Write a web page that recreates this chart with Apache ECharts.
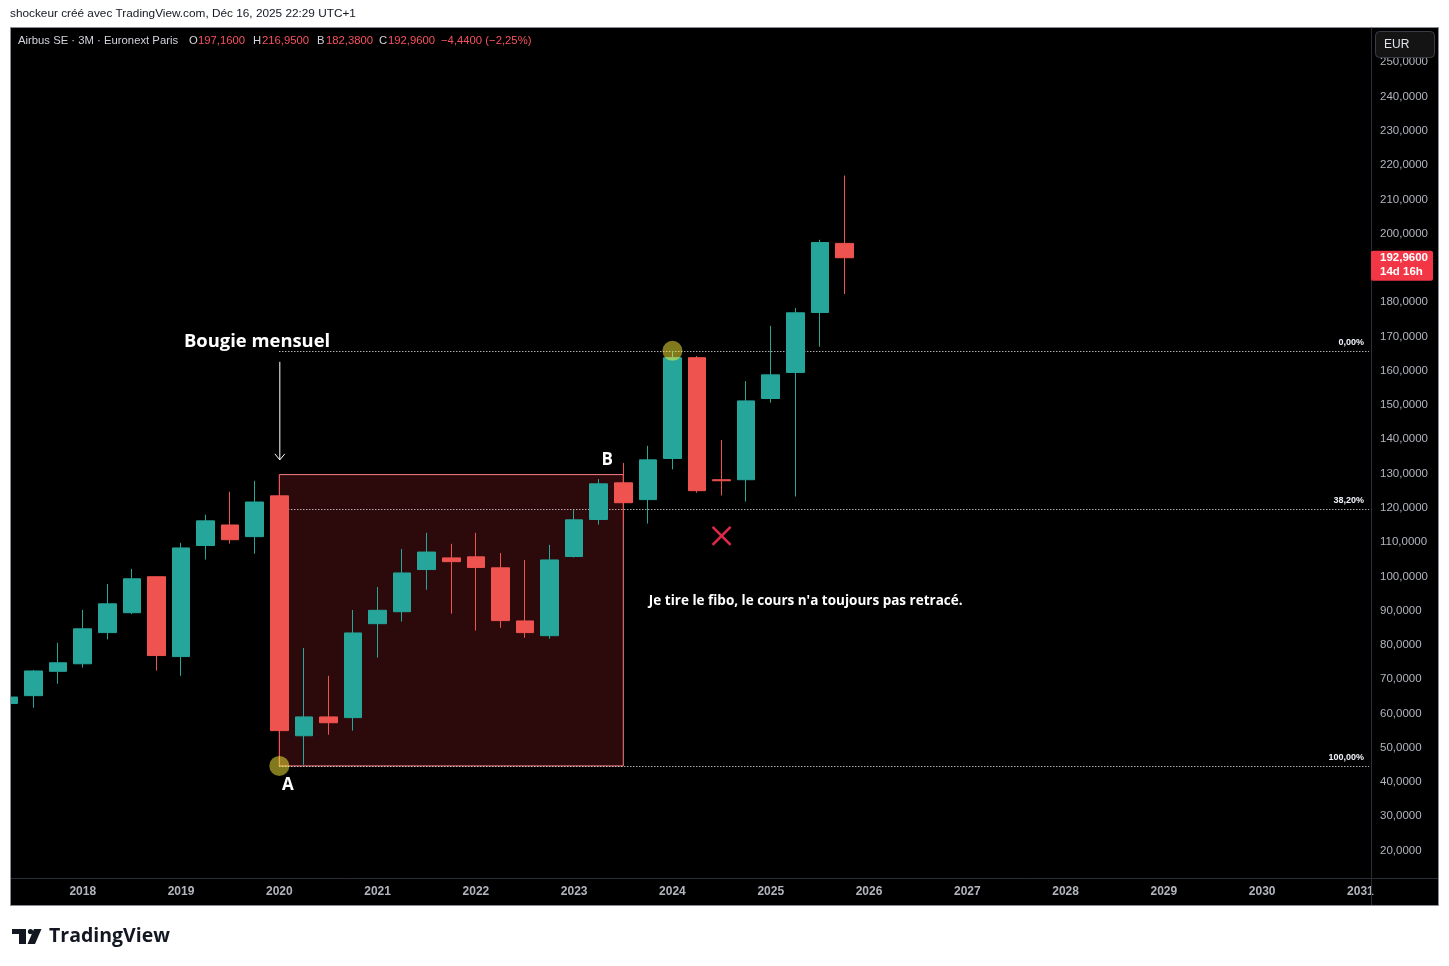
<!DOCTYPE html>
<html><head><meta charset="utf-8">
<script src="https://cdn.jsdelivr.net/npm/echarts@6/dist/echarts.min.js"></script>
<style>html,body{margin:0;padding:0;background:#fff;}#main{width:1449px;height:966px;}</style>
</head><body><div id="main"></div>
<script>
// ---- Data (quarterly candles, Airbus SE, Euronext Paris) ----
const quarters = ['2017 T2','2017 T3','2017 T4','2018 T1','2018 T2','2018 T3','2018 T4','2019 T1','2019 T2','2019 T3','2019 T4',
  '2020 T1','2020 T2','2020 T3','2020 T4','2021 T1','2021 T2','2021 T3','2021 T4','2022 T1','2022 T2','2022 T3','2022 T4',
  '2023 T1','2023 T2','2023 T3','2023 T4','2024 T1','2024 T2','2024 T3','2024 T4','2025 T1','2025 T2','2025 T3','2025 T4'];
const opens  = [62.9,65.2,72.3,74.5,83.6,89.4,99.9,76.6,109.0,115.0,111.6,123.5,53.5,59.0,58.8,86.2,89.7,102.0,105.4,105.7,102.5,87.0,82.7,105.8,116.6,127.3,122.4,134.4,163.8,128.2,128.2,151.9,159.5,177.0,197.16];
const highs  = [65.6,72.7,80.6,90.2,97.8,102.2,100.0,109.8,118.0,124.7,127.9,129.7,79.1,71.0,90.2,96.9,108.0,112.7,109.5,112.7,106.8,104.8,109.2,119.4,128.4,133.1,138.1,165.8,164.3,139.8,157.0,173.1,178.3,198.2,216.95];
const lows   = [62.3,61.7,68.7,73.4,81.6,89.0,72.5,71.0,104.9,109.6,106.6,44.7,45.0,53.8,55.0,76.3,86.8,96.1,89.1,84.2,85.0,82.1,81.8,105.5,115.1,116.0,115.4,131.2,124.4,123.6,121.8,150.7,123.3,167.0,182.38];
const closes = [64.8,72.4,74.8,84.7,92.0,99.3,76.9,108.3,116.2,110.7,121.7,55.0,59.0,57.3,83.5,90.1,101.0,107.1,104.3,102.6,87.1,83.6,104.8,116.5,127.0,121.5,134.0,163.8,125.0,127.9,151.2,158.8,176.9,197.4,192.96];

const yearLabels = ['2018','2019','2020','2021','2022','2023','2024','2025','2026','2027','2028','2029','2030','2031'];
const priceTicks = [20,30,40,50,60,70,80,90,100,110,120,130,140,150,160,170,180,190,200,210,220,230,240,250];
const fibLevels = [0, 0.382, 1];
const fibLabels = ['0,00%', '38,20%', '100,00%'];

const idxA = quarters.indexOf('2020 T1');     // point A (fibo 100%)
const idxTop = quarters.indexOf('2024 T1');   // fibo 0%
const idxB = quarters.indexOf('2023 T3');     // box right edge (B)
const fibLow = lows[idxA];
const fibHigh = highs[idxTop];
const boxTop = highs[idxA];

// annotation anchors (data coordinates)
const noteBougie = [7.12, 168.4];
const arrowFrom = [idxA, 162.6], arrowTo = [idxA, 134.0];
const labelA = [11.35, 39.2];
const labelB = [24.34, 134.0];
const noteFibo = [26.04, 92.8];
const crossAt = [29, 111.8];

const firstYear = 2017, firstQ = 2;
const yearIndex = y => (y - firstYear) * 4 + (1 - firstQ);
const yearTickValues = yearLabels.map(y => yearIndex(+y));

const fmt4 = v => v.toFixed(4).replace('.', ',');
const UP = '#26a69a', DOWN = '#ef5350', TXT = '#d1d4dc', RED = '#f7525f';
const FONT = '"Liberation Sans", Arial, sans-serif';
const AFONT = '"Open Sans", "DejaVu Sans", sans-serif';

const chart = echarts.init(document.getElementById('main'));
const candleData = quarters.map((q, i) => [i, opens[i], closes[i], lows[i], highs[i]]);
const xMin = 0.08, xMax = 55.43;

const option = {
  backgroundColor: '#ffffff',
  animation: false,
  grid: { left: 11, right: 78, top: 28, bottom: 88, containLabel: false },
  xAxis: {
    type: 'value', min: xMin, max: xMax,
    axisLine: { show: true, lineStyle: { color: '#2a2e39', width: 1 } },
    axisTick: { show: false }, splitLine: { show: false },
    axisLabel: {
      customValues: yearTickValues, color: '#b2b5be', fontFamily: FONT, fontSize: 12, fontWeight: 'bold', margin: 8,
      formatter: v => String(firstYear + Math.floor((Math.round(v) + firstQ - 1) / 4))
    }
  },
  yAxis: {
    type: 'value', position: 'right', min: 12, max: 260,
    axisLine: { show: true, lineStyle: { color: '#2a2e39', width: 1 } },
    axisTick: { show: false }, splitLine: { show: false },
    axisLabel: { customValues: priceTicks, color: '#b2b5be', fontFamily: FONT, fontSize: 11.5, margin: 9, formatter: v => fmt4(v) }
  },
  series: [
    {
      type: 'line', data: [], z: 1, silent: true,
      markArea: {
        silent: true, z: 1,
        itemStyle: { color: 'rgba(242,54,69,0.18)', borderColor: '#f77c80', borderWidth: 1 },
        data: [[{ coord: [idxA, boxTop] }, { coord: [idxB, fibLow] }]]
      },
      markLine: {
        silent: true, z: 1, symbol: ['none', 'none'],
        lineStyle: { color: '#ffffff', width: 1, type: [1, 2] },
        label: { show: true, position: 'insideEndTop', color: '#f0f3fa', fontFamily: FONT, fontSize: 9, fontWeight: 'bold', distance: 4, padding: [0, 1, 0, 0] },
        data: fibLevels.map((l, i) => {
          const v = fibHigh - l * (fibHigh - fibLow);
          return [{ coord: [idxA, v], label: { formatter: fibLabels[i] } }, { coord: [xMax - 0.08, v] }];
        })
      }
    },
    {
      type: 'candlestick', z: 2, clip: true,
      data: candleData,
      encode: { x: 0, y: [1, 2, 3, 4] },
      barWidth: 18,
      itemStyle: { color: UP, color0: DOWN, borderColor: UP, borderColor0: DOWN, borderWidth: 1 }
    },
    {
      type: 'line', data: [], z: 5, silent: true,
      markPoint: {
        silent: true, z: 5, symbol: 'circle', symbolSize: 20,
        itemStyle: { color: 'rgba(255,241,59,0.5)' }, label: { show: false },
        data: [{ coord: [idxA, fibLow] }, { coord: [idxTop, fibHigh] }]
      }
    }
  ]
};
chart.setOption(option);

const px = p => chart.convertToPixel({ gridIndex: 0 }, p);
const last = quarters.length - 1;
const chg = closes[last] - closes[last - 1];
const pct = chg / closes[last - 1] * 100;
const neg = s => s.replace('-', '\u2212');
const pY = px([0, closes[last]])[1];
const pB = px(noteBougie), a1 = px(arrowFrom), a2 = px(arrowTo), pA = px(labelA), pBB = px(labelB), pN = px(noteFibo), pX = px(crossAt);

const g = [];
// frame + black pane
g.push({ type: 'rect', z: -10, shape: { x: 10.5, y: 27.5, width: 1428, height: 878 }, style: { fill: '#000', stroke: '#8a8d96', lineWidth: 1 } });
// mask anything drawn left of the pane, then redraw the left border
g.push({ type: 'rect', z: 50, shape: { x: 0, y: 27, width: 10, height: 880 }, style: { fill: '#fff' } });
g.push({ type: 'line', z: 51, shape: { x1: 10.5, y1: 27.5, x2: 10.5, y2: 905.5 }, style: { stroke: '#8a8d96', lineWidth: 1 } });
g.push({ type: 'line', z: 10, shape: { x1: 1371.5, y1: 878, x2: 1371.5, y2: 905 }, style: { stroke: '#2a2e39', lineWidth: 1 } });
g.push({ type: 'line', z: 10, shape: { x1: 1371, y1: 878.5, x2: 1438, y2: 878.5 }, style: { stroke: '#2a2e39', lineWidth: 1 } });
// header
g.push({ type: 'text', z: 10, x: 10, y: 14, style: { text: 'shockeur créé avec TradingView.com, Déc 16, 2025 22:29 UTC+1', fill: '#131722', font: '11.8px ' + FONT, verticalAlign: 'middle' } });
// legend
const leg = [
  [18, 'Airbus SE · 3M · Euronext Paris', TXT], [189, 'O', TXT], [198, fmt4(opens[last]), RED],
  [253, 'H', TXT], [262, fmt4(highs[last]), RED], [317, 'B', TXT], [326, fmt4(lows[last]), RED],
  [379, 'C', TXT], [388, fmt4(closes[last]), RED], [441, neg(fmt4(chg)) + ' (' + neg(pct.toFixed(2).replace('.', ',')) + '%)', RED]
];
leg.forEach(([x, t, c]) => g.push({ type: 'text', z: 10, x: x, y: 41, style: { text: t, fill: c, font: '11.3px ' + FONT, verticalAlign: 'middle' } }));
// EUR box
g.push({ type: 'rect', z: 20, shape: { x: 1375.5, y: 31.5, width: 59, height: 26, r: 4 }, style: { fill: '#141414', stroke: '#3a3d45', lineWidth: 1 } });
g.push({ type: 'text', z: 21, x: 1384, y: 45, style: { text: 'EUR', fill: '#e0e3eb', font: '12px ' + FONT, verticalAlign: 'middle' } });
// price tag
g.push({ type: 'rect', z: 20, shape: { x: 1371, y: pY - 7, width: 62, height: 30, r: 2 }, style: { fill: '#f23645' } });
g.push({ type: 'text', z: 21, x: 1380, y: pY, style: { text: fmt4(closes[last]), fill: '#fff', font: 'bold 11.5px ' + FONT, verticalAlign: 'middle' } });
g.push({ type: 'text', z: 21, x: 1380, y: pY + 14, style: { text: '14d 16h', fill: '#fff', font: 'bold 11.5px ' + FONT, verticalAlign: 'middle' } });
// annotations
g.push({ type: 'text', z: 30, x: pB[0], y: pB[1], style: { text: 'Bougie mensuel', fill: '#fff', font: 'bold 18.4px ' + AFONT, verticalAlign: 'middle' } });
g.push({ type: 'line', z: 30, shape: { x1: a1[0] + 0.5, y1: a1[1], x2: a2[0] + 0.5, y2: a2[1] }, style: { stroke: '#fff', lineWidth: 1 } });
g.push({ type: 'polyline', z: 30, shape: { points: [[a2[0] - 4.5, a2[1] - 6], [a2[0] + 0.5, a2[1]], [a2[0] + 5.5, a2[1] - 6]] }, style: { stroke: '#fff', lineWidth: 1, fill: null } });
g.push({ type: 'text', z: 30, x: pA[0], y: pA[1], style: { text: 'A', fill: '#fff', font: 'bold 17px ' + AFONT, align: 'center', verticalAlign: 'middle' } });
g.push({ type: 'text', z: 30, x: pBB[0], y: pBB[1], style: { text: 'B', fill: '#fff', font: 'bold 17px ' + AFONT, align: 'center', verticalAlign: 'middle' } });
g.push({ type: 'text', z: 30, x: pN[0], y: pN[1], style: { text: "Je tire le fibo, le cours n'a toujours pas retracé.", fill: '#fff', font: 'bold 13.5px ' + AFONT, verticalAlign: 'middle' } });
g.push({ type: 'line', z: 30, shape: { x1: pX[0] - 9, y1: pX[1] - 9, x2: pX[0] + 9, y2: pX[1] + 9 }, style: { stroke: '#e0294a', lineWidth: 2.5 } });
g.push({ type: 'line', z: 30, shape: { x1: pX[0] + 9, y1: pX[1] - 9, x2: pX[0] - 9, y2: pX[1] + 9 }, style: { stroke: '#e0294a', lineWidth: 2.5 } });
// TradingView logo
g.push({ type: 'polygon', z: 10, shape: { points: [[12, 929], [26, 929], [26, 944], [19, 944], [19, 934], [12, 934]] }, style: { fill: '#131722' } });
g.push({ type: 'circle', z: 10, shape: { cx: 30.5, cy: 931.5, r: 2.6 }, style: { fill: '#131722' } });
g.push({ type: 'polygon', z: 10, shape: { points: [[34, 929], [41.5, 929], [35, 944], [27.5, 944]] }, style: { fill: '#131722' } });
g.push({ type: 'text', z: 10, x: 49, y: 936, style: { text: 'TradingView', fill: '#131722', font: 'bold 19.5px ' + AFONT, verticalAlign: 'middle' } });

chart.setOption({ graphic: g });
</script></body></html>
